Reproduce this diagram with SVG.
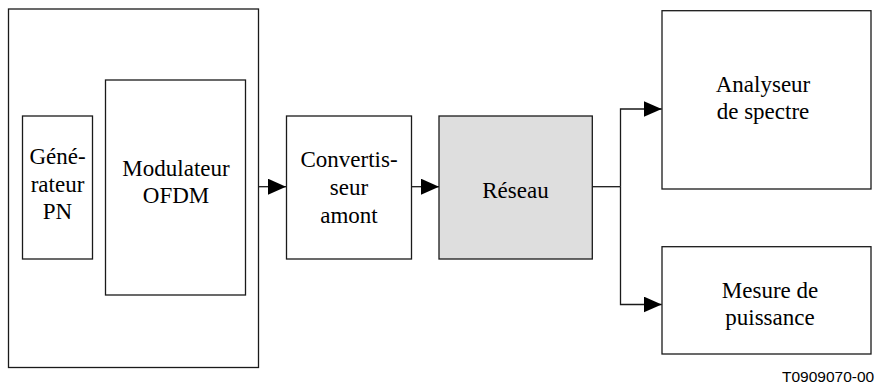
<svg xmlns="http://www.w3.org/2000/svg" width="877" height="385" viewBox="0 0 877 385">
<style>
.box{fill:#fff;stroke:#1a1a1a;stroke-width:1.3}
.grey{fill:#dedede}
.t{font-family:'Liberation Serif','DejaVu Serif','Times New Roman',serif;font-size:23px;fill:#000;text-anchor:middle}
.lab{font-family:'Liberation Sans',Arial,sans-serif;font-size:15.5px;fill:#000}
.con{fill:none;stroke:#1a1a1a;stroke-width:1.3}
</style>
<defs>
<marker id="ah" markerWidth="18" markerHeight="16" refX="18" refY="8" orient="auto" markerUnits="userSpaceOnUse">
<path d="M0,0 L18,8 L0,16 Z" fill="#000"/>
</marker>
</defs>
<rect width="877" height="385" fill="#fff"/>
<g id="emetteur">
<rect class="box" x="8.5" y="9" width="250" height="358.5"/>
</g>
<g id="generateur">
<rect class="box" x="22.5" y="116" width="70" height="143"/>
<text class="t" x="57.5" y="164">Géné-</text>
<text class="t" x="57.5" y="191.5">rateur</text>
<text class="t" x="57.5" y="219">PN</text>
</g>
<g id="modulateur">
<rect class="box" x="105.5" y="80" width="140" height="215"/>
<text class="t" x="176" y="176">Modulateur</text>
<text class="t" x="176" y="203.3">OFDM</text>
</g>
<g id="convertisseur">
<rect class="box" x="286.5" y="116" width="125" height="143"/>
<text class="t" x="349" y="167.3">Convertis-</text>
<text class="t" x="349" y="195">seur</text>
<text class="t" x="349" y="222.5">amont</text>
</g>
<g id="reseau">
<rect class="box grey" x="439" y="116" width="153.3" height="143"/>
<text class="t" x="515.5" y="197.5">Réseau</text>
</g>
<g id="analyseur">
<rect class="box" x="662" y="10.7" width="209" height="178.3"/>
<text class="t" x="763" y="91.7">Analyseur</text>
<text class="t" x="763" y="119.3">de spectre</text>
</g>
<g id="mesure">
<rect class="box" x="662" y="246.7" width="209" height="107.3"/>
<text class="t" x="770" y="297.7">Mesure de</text>
<text class="t" x="770" y="324.5">puissance</text>
</g>
<g id="connectors">
<line class="con" x1="258.5" y1="186.7" x2="286" y2="186.7" marker-end="url(#ah)"/>
<line class="con" x1="411.5" y1="186.7" x2="439" y2="186.7" marker-end="url(#ah)"/>
<polyline class="con" points="592.3,186.7 620.5,186.7"/>
<polyline class="con" points="620.5,186.7 620.5,109 661.7,109" marker-end="url(#ah)"/>
<polyline class="con" points="620.5,186.7 620.5,304.5 661.7,304.5" marker-end="url(#ah)"/>
</g>
<text class="lab" x="782" y="381.5">T0909070-00</text>
</svg>
